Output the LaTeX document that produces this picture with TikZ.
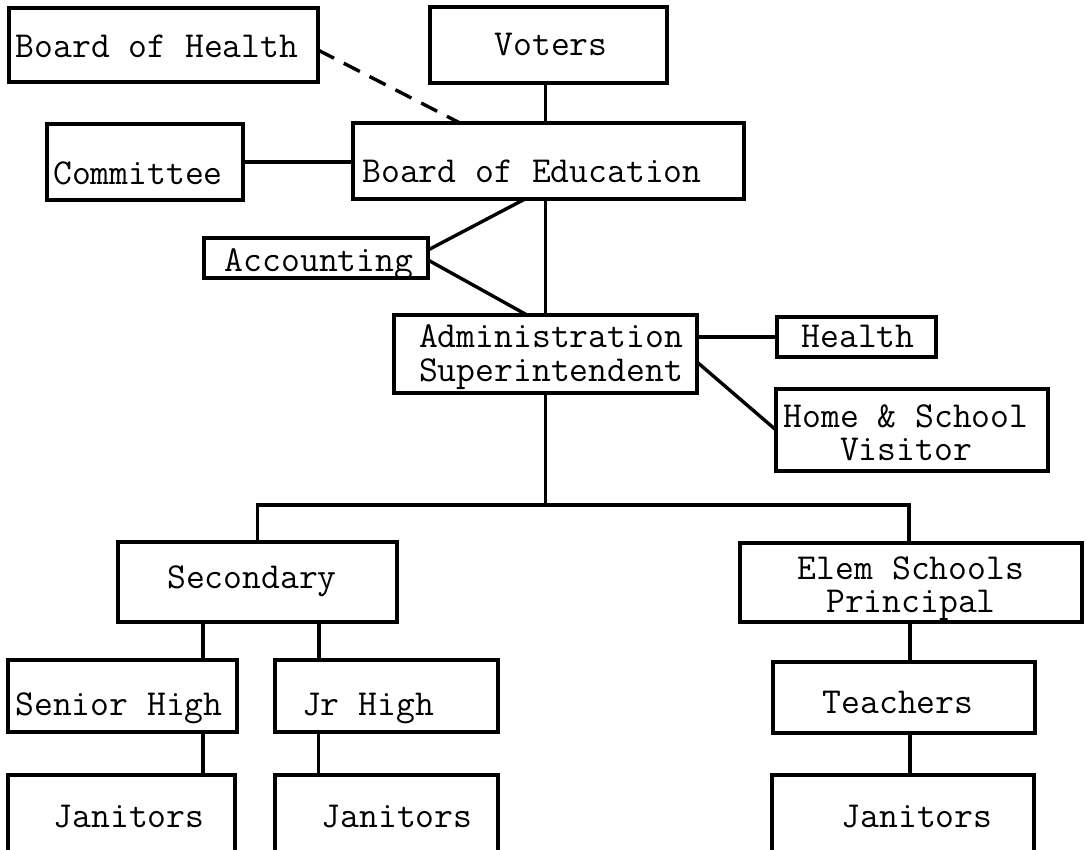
\documentclass[tikz,border=0pt]{standalone}
\usepackage{fontspec}
\begin{document}
\begin{tikzpicture}[x=1pt,y=-1pt,
  box/.style n args={2}{draw, line width=3.8pt, inner sep=0pt, outer sep=0pt,
    minimum width=#1pt, minimum height=#2pt},
  lbl/.style={font=\ttfamily\addfontfeatures{FakeBold=2}\fontsize{36.6}{33}\selectfont,
    inner sep=0pt, anchor=base, align=center},
  link/.style={line width=3.4pt},
  dashlink/.style={line width=3.4pt, dash pattern=on 18pt off 11pt}]

% page
\path[fill=white, use as bounding box] (0,0) rectangle (1087,850);

% boxes
\node[box={309}{74}] (boh) at (163.5,45) {};
\node[box={237}{76}] (voters) at (548.5,45) {};
\node[box={196}{76}] (committee) at (145,162) {};
\node[box={391}{76}] (boe) at (548.5,161) {};
\node[box={224}{40}] (acct) at (316,258) {};
\node[box={303}{78}] (admin) at (545.5,354) {};
\node[box={159}{40}] (health) at (856.5,337) {};
\node[box={272}{82}] (hsv) at (912,430) {};
\node[box={279}{80}] (sec) at (257.5,582) {};
\node[box={342}{79}] (elem) at (911,582.5) {};
\node[box={229}{72}] (senior) at (122.5,696) {};
\node[box={223}{72}] (jr) at (386.5,696) {};
\node[box={262}{71}] (teach) at (904,697.5) {};
\node[box={227}{80}] (jan1) at (121.5,815) {};
\node[box={223}{80}] (jan2) at (386.5,815) {};
\node[box={262}{80}] (jan3) at (903,815) {};

% labels (anchored on the baseline of the last line)
\node[lbl] (boh-t) at (157,58) {Board of Health};
\node[lbl] (voters-t) at (551,56) {Voters};
\node[lbl] (committee-t) at (138,185) {Committee};
\node[lbl] (boe-t) at (532,183) {Board of Education};
\node[lbl] (acct-t) at (319,272) {Accounting};
\node[lbl] (admin-t) at (551,381) {Administration\\Superintendent};
\node[lbl] (health-t) at (858,348) {Health};
\node[lbl] (hsv-t) at (906,460) {Home \& School\\Visitor};
\node[lbl] (sec-t) at (252,588) {Secondary};
\node[lbl] (elem-t) at (911,612) {Elem Schools\\Principal};
\node[lbl] (senior-t) at (119,715) {Senior High};
\node[lbl] (jr-t) at (368,715) {Jr High};
\node[lbl] (teach-t) at (898,713) {Teachers};
\node[lbl] (jan1-t) at (129,827) {Janitors};
\node[lbl] (jan2-t) at (397,827) {Janitors};
\node[lbl] (jan3-t) at (917,827) {Janitors};

% connectors
\draw[dashlink] ([yshift=-5pt]boh.east) -- ([xshift=107pt]boe.north west);
\draw[link] ([xshift=-3pt]voters.south) -- ([xshift=-3pt]voters.south |- boe.north);
\draw[link] (committee.east) -- (committee.east -| boe.west);
\draw[link] ([xshift=-23.5pt]boe.south) -- ([yshift=8pt]acct.east);
\draw[link] ([yshift=-2pt]acct.east) -- ([xshift=-18.5pt]admin.north);
\draw[link] (admin.north |- boe.south) -- (admin.north);
\draw[link] (health.west -| admin.east) -- (health.west);
\draw[link] ([yshift=-8pt]admin.east) -- (hsv.west);

\coordinate (fork) at (545.5,505);
\draw[link] (admin.south) -- (fork);
\draw[link] (sec.north) |- (fork) -| ([xshift=-2pt]elem.north);

\draw[link] ([xshift=80.5pt]senior.north) -- ([xshift=80.5pt]senior.north |- sec.south);
\draw[link] ([xshift=-67.5pt]jr.north) -- ([xshift=-67.5pt]jr.north |- sec.south);
\draw[link] ([xshift=80.5pt]senior.south) -- ([xshift=80.5pt]senior.south |- jan1.north);
\draw[link] ([xshift=-68pt]jr.south) -- ([xshift=-68pt]jr.south |- jan2.north);
\draw[link] ([xshift=6pt]teach.north) -- ([xshift=6pt]teach.north |- elem.south);
\draw[link] ([xshift=6pt]teach.south) -- ([xshift=6pt]teach.south |- jan3.north);
\end{tikzpicture}
\end{document}
